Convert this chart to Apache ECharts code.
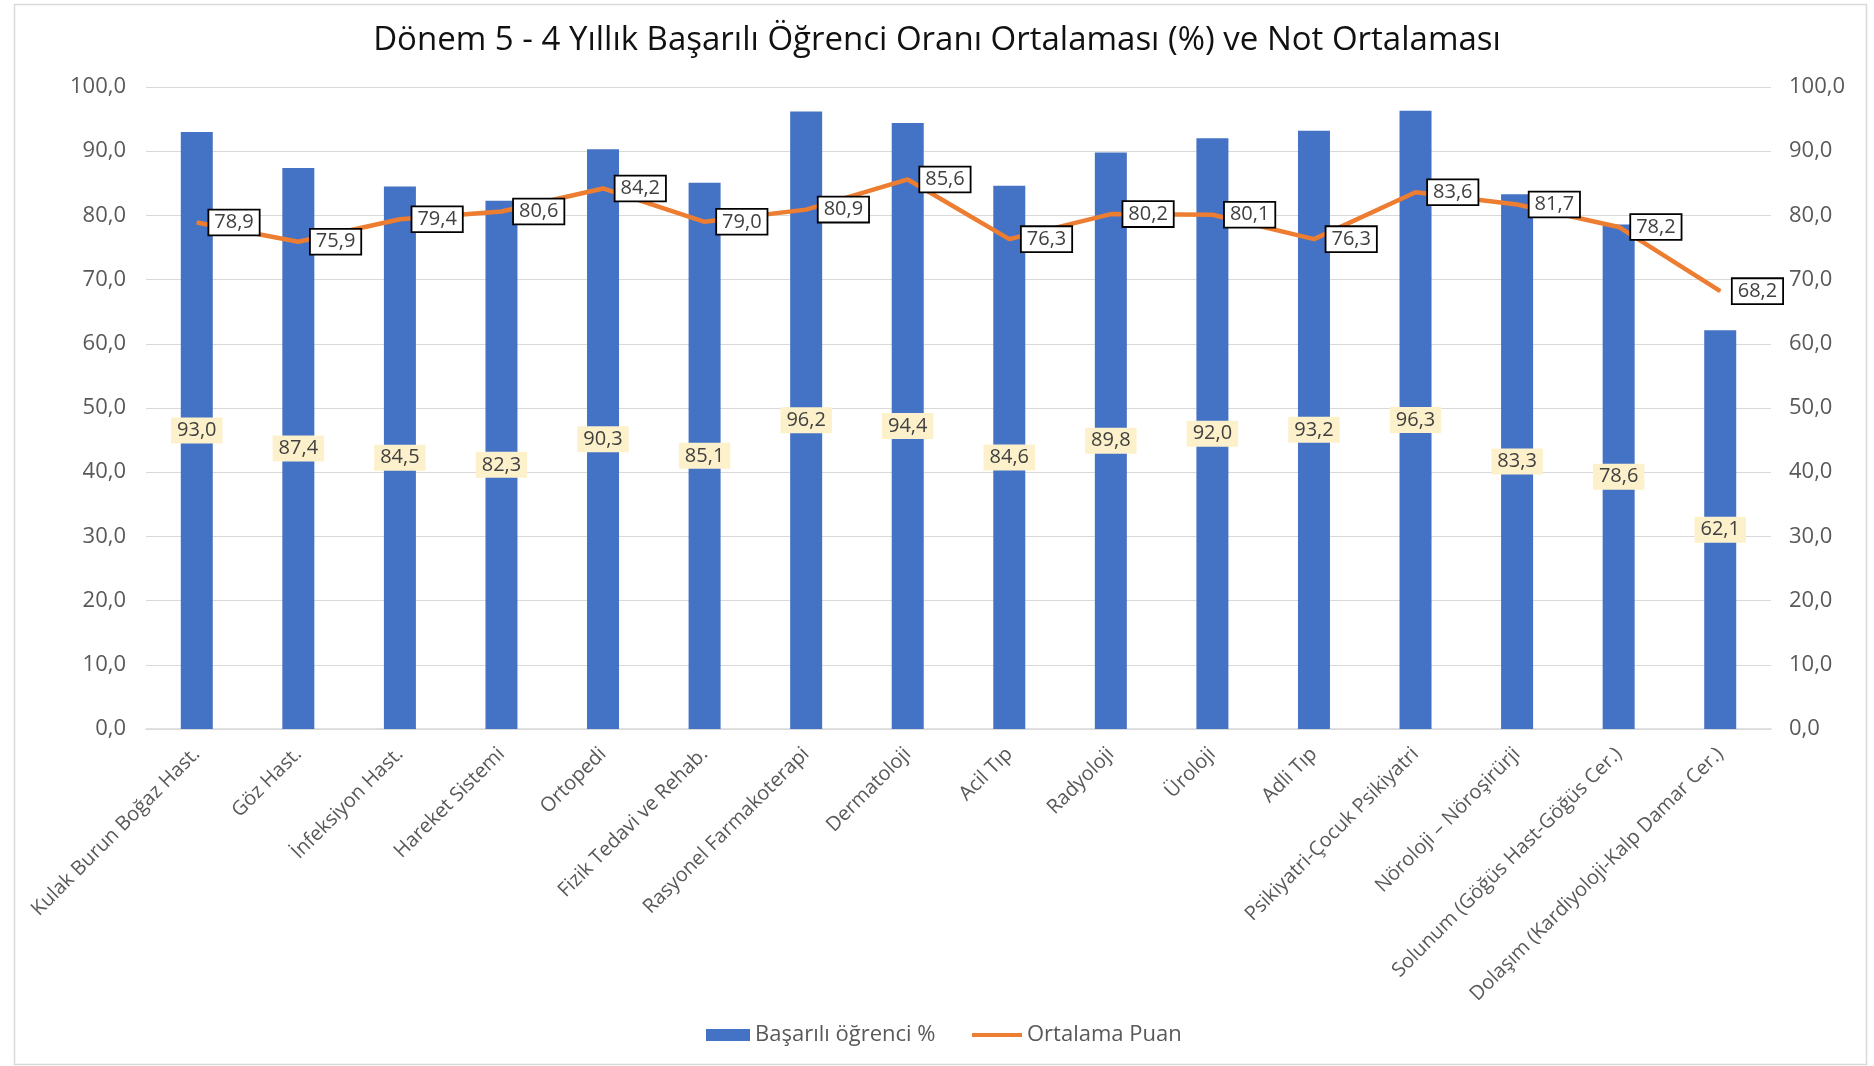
<!DOCTYPE html>
<html>
<head>
<meta charset="utf-8">
<script src="https://cdn.jsdelivr.net/npm/echarts@6/dist/echarts.min.js"></script>
<style>
html,body{margin:0;padding:0;background:#fff;}
#c{width:1874px;height:1066px;}
</style>
</head>
<body>
<div id="c"></div>
<script>
const categories = [
  'Kulak Burun Boğaz Hast.', 'Göz Hast.', 'İnfeksiyon Hast.', 'Hareket Sistemi',
  'Ortopedi', 'Fizik Tedavi ve Rehab.', 'Rasyonel Farmakoterapi', 'Dermatoloji',
  'Acil Tıp', 'Radyoloji', 'Üroloji', 'Adli Tıp', 'Psikiyatri-Çocuk Psikiyatri',
  'Nöroloji – Nöroşirürji', 'Solunum (Göğüs Hast-Göğüs Cer.)', 'Dolaşım (Kardiyoloji-Kalp Damar Cer.)'
];
const basariliOgrenci = [93.0, 87.4, 84.5, 82.3, 90.3, 85.1, 96.2, 94.4, 84.6, 89.8, 92.0, 93.2, 96.3, 83.3, 78.6, 62.1];
const ortalamaPuan = [78.9, 75.9, 79.4, 80.6, 84.2, 79.0, 80.9, 85.6, 76.3, 80.2, 80.1, 76.3, 83.6, 81.7, 78.2, 68.2];
const axisMin = 0, axisMax = 100, axisStep = 10;

const fmt = v => Number(v).toFixed(1).replace('.', ',');
const FONT = '"Open Sans", "Noto Sans", sans-serif';

const chart = echarts.init(document.getElementById('c'));
chart.setOption({
  backgroundColor: '#fff',
  animation: false,
  textStyle: { fontFamily: FONT },
  title: {
    text: 'Dönem 5 - 4 Yıllık Başarılı Öğrenci Oranı Ortalaması (%) ve Not Ortalaması',
    left: 'center', top: 19,
    textStyle: { fontFamily: FONT, fontSize: 33, fontWeight: 'normal', color: '#111' }
  },
  graphic: [{
    type: 'rect', left: 12, top: 2, silent: true,
    shape: { width: 1852, height: 1060 },
    style: { fill: 'none', stroke: '#D9D9D9', lineWidth: 1.5 }
  }],
  legend: [{
    top: 1019, left: 701, itemWidth: 44, itemHeight: 12, itemGap: 6,
    textStyle: { fontFamily: FONT, fontSize: 22, color: '#595959' },
    data: [{ name: 'Başarılı öğrenci %', icon: 'rect', itemStyle: { color: '#4472C4' } }]
  }, {
    top: 1019, left: 967, itemWidth: 50, itemHeight: 4, itemGap: 6,
    textStyle: { fontFamily: FONT, fontSize: 22, color: '#595959' },
    data: [{ name: 'Ortalama Puan', icon: 'rect', itemStyle: { color: '#ED7D31' } }]
  }],
  grid: { left: 146, right: 103, top: 87, bottom: 337, containLabel: false },
  xAxis: {
    type: 'category', data: categories,
    axisLine: { lineStyle: { color: '#D9D9D9', width: 1.5 } },
    axisTick: { show: false },
    axisLabel: { rotate: 45, interval: 0, fontFamily: FONT, fontSize: 20, color: '#595959', margin: 22 }
  },
  yAxis: [{
    type: 'value', min: axisMin, max: axisMax, interval: axisStep,
    axisLine: { show: false }, axisTick: { show: false },
    splitLine: { lineStyle: { color: '#D9D9D9', width: 1.2 } },
    axisLabel: { formatter: fmt, fontFamily: FONT, fontSize: 22, color: '#595959', margin: 20 }
  }, {
    type: 'value', min: axisMin, max: axisMax, interval: axisStep, position: 'right',
    axisLine: { show: false }, axisTick: { show: false }, splitLine: { show: false },
    axisLabel: { formatter: fmt, fontFamily: FONT, fontSize: 22, color: '#595959', margin: 18 }
  }],
  series: [{
    name: 'Başarılı öğrenci %', type: 'bar', data: basariliOgrenci, yAxisIndex: 0,
    barWidth: 32,
    itemStyle: { color: '#4472C4' },
    label: {
      show: true, position: 'inside', formatter: p => fmt(p.value),
      fontFamily: FONT, fontSize: 20, color: '#404040',
      backgroundColor: '#FDF1CB', padding: [3, 6]
    }
  }, {
    name: 'Ortalama Puan', type: 'line', data: ortalamaPuan, yAxisIndex: 1,
    showSymbol: true, symbol: 'circle', symbolSize: 1,
    lineStyle: { color: '#ED7D31', width: 4.5 },
    itemStyle: { color: '#ED7D31' },
    label: {
      show: true, position: 'right', distance: 12, formatter: p => fmt(p.value),
      fontFamily: FONT, fontSize: 20, color: '#404040',
      backgroundColor: '#fff', borderColor: '#000', borderWidth: 1.8, padding: [2, 5]
    }
  }]
});
</script>
</body>
</html>
